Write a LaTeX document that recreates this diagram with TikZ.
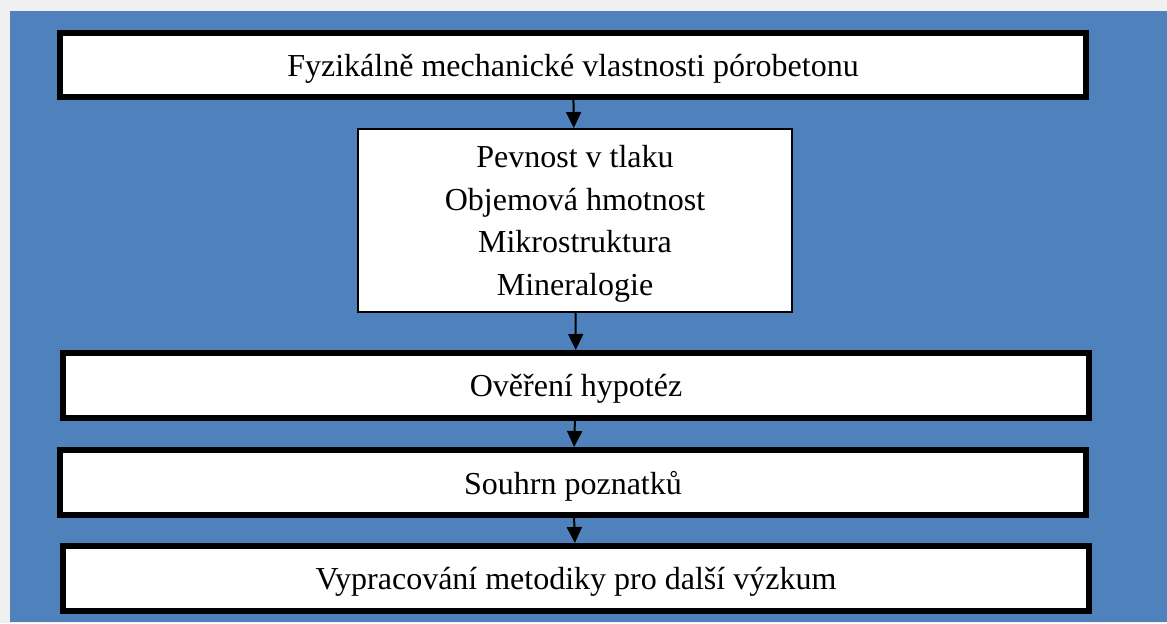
\documentclass[tikz,border=0pt]{standalone}
\usepackage{fontspec}
\setmainfont{Liberation Serif}
\usetikzlibrary{arrows.meta, positioning}
\definecolor{bgblue}{HTML}{4F81BD}
\definecolor{bggray}{HTML}{F0F0F0}

\begin{document}
\begin{tikzpicture}[x=0.5pt, y=-0.5pt, every node/.style={draw, rectangle, fill=white, align=center, text depth=0pt, font=\fontsize{16}{21.3}\selectfont}, wide/.style={line width=3pt, minimum width=513pt, minimum height=32.5pt}, list/.style={line width=1pt, minimum width=217pt, minimum height=91.5pt}, arrow/.style={line width=1pt, -{Triangle[length=8pt, width=7.5pt]}}]
\useasboundingbox (0,0) rectangle (1167,623);
\fill[bggray] (0,0) rectangle (1167,623);
\fill[bgblue] (10,11) rectangle (1167,622);
\node[wide, minimum height=32pt] (props) at (573,65) {Fyzikálně mechanické vlastnosti pórobetonu};
\node[list] (params) [below=14pt of props, xshift=1pt] {Pevnost v tlaku\\ Objemová hmotnost\\ Mikrostruktura\\ Mineralogie};
\node[wide] (verify) [below=18.5pt of params, xshift=0.5pt] {Ověření hypotéz};
\node[wide] (summary) [below=13pt of verify, xshift=-1.5pt] {Souhrn poznatků};
\node[wide] (method) [below=12.5pt of summary, xshift=1.5pt] {Vypracování metodiky pro další výzkum};
\draw[arrow] (props) -- (params);
\draw[arrow] (params) -- (verify);
\draw[arrow] (verify) -- (summary);
\draw[arrow] (summary) -- (method);
\end{tikzpicture}
\end{document}
